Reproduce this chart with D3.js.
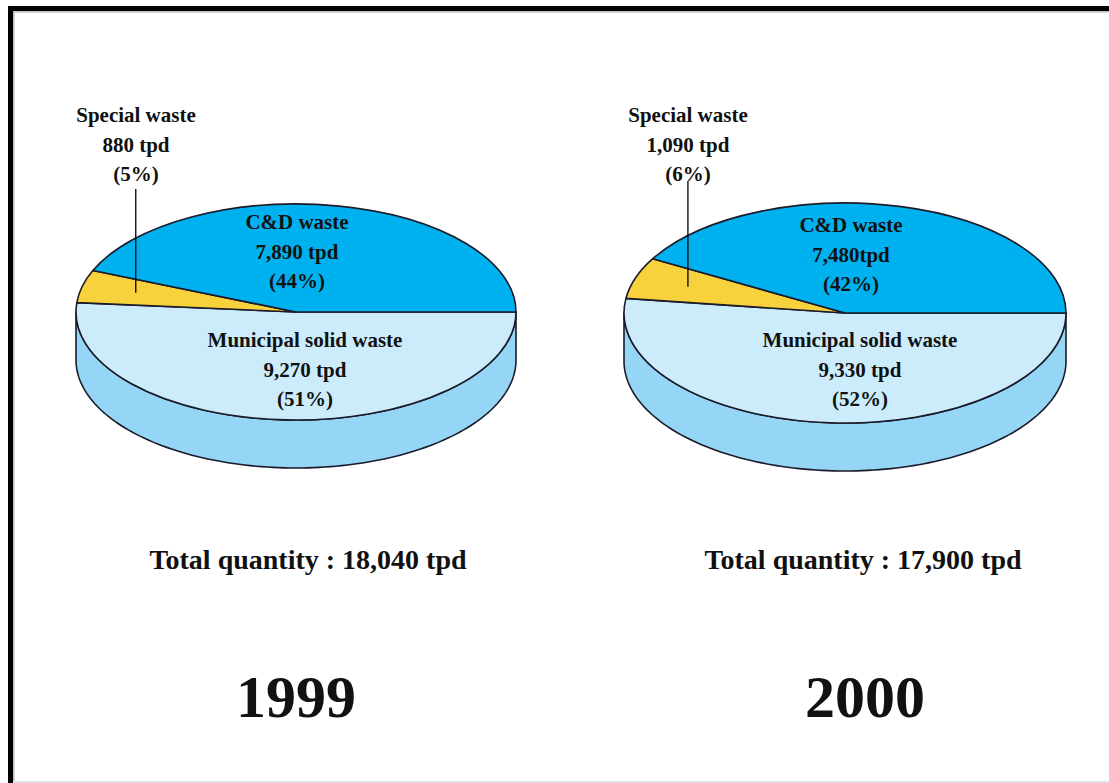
<!DOCTYPE html>
<html>
<head>
<meta charset="utf-8">
<script src="https://cdn.jsdelivr.net/npm/d3@7"></script>
<style>
  html, body { margin: 0; padding: 0; background: #fff; }
  svg { display: block; }
  text { font-family: "Liberation Serif", "Times New Roman", serif; font-weight: bold; fill: #111; }
</style>
</head>
<body>
<svg id="chart" width="1109" height="783"></svg>
<script>
// Daily waste quantities (tonnes per day) by category, for each year
const years = ["1999", "2000"];
const categories = ["Municipal solid waste", "Special waste", "C&D waste"];
const tpd1999 = [9270, 880, 7890];
const tpd2000 = [9330, 1090, 7480];
const pct1999 = [51, 5, 44];
const pct2000 = [52, 6, 42];
const totals = [18040, 17900];
const unitSep1999 = [" ", " ", " "];
const unitSep2000 = [" ", " ", ""];

const colors = ["#cdecfb", "#f8d23c", "#00b1ef"];
const sideColors = ["#95d6f6", "#d8b020", "#0093c8"];

const W = 1109, H = 783;
const svg = d3.select("#chart");

// frame
svg.append("rect").attr("x", 8).attr("y", 6).attr("width", W - 8).attr("height", 5).attr("fill", "#000");
svg.append("rect").attr("x", 8).attr("y", 6).attr("width", 5).attr("height", H - 6).attr("fill", "#000");
svg.append("rect").attr("x", 13).attr("y", 11).attr("width", W - 13).attr("height", 1.5).attr("fill", "#bbb");
svg.append("rect").attr("x", 13).attr("y", 11).attr("width", 1.5).attr("height", H - 11).attr("fill", "#bbb");
svg.append("rect").attr("x", 13).attr("y", H - 2).attr("width", W - 13).attr("height", 2).attr("fill", "#e2e2e2");

const fmt = d3.format(",");

const panels = [
  { year: years[0], values: tpd1999, pcts: pct1999, seps: unitSep1999, total: totals[0],
    cx: 296, cy: 312, rx: 220, ry: 108, depth: 48,
    special: { x: 136, top: 189 }, cd: { x: 297, y: 229 }, msw: { x: 305, y: 347 },
    totalX: 308, yearX: 296 },
  { year: years[1], values: tpd2000, pcts: pct2000, seps: unitSep2000, total: totals[1],
    cx: 845, cy: 313, rx: 221, ry: 110, depth: 48,
    special: { x: 688, top: 181 }, cd: { x: 851, y: 232 }, msw: { x: 860, y: 347 },
    totalX: 863, yearX: 865 }
];

const pie = d3.pie().sort(null).startAngle(Math.PI / 2).endAngle(Math.PI / 2 + 2 * Math.PI);

panels.forEach(p => {
  const slices = pie(p.values);
  const g = svg.append("g");
  const ept = (a, r = 1) => [p.cx + p.rx * r * Math.sin(a), p.cy - p.ry * r * Math.cos(a)];

  // visible side wall (front half: angles pi/2 .. 3pi/2)
  slices.forEach((s, i) => {
    const a0 = Math.max(s.startAngle, Math.PI / 2);
    const a1 = Math.min(s.endAngle, 3 * Math.PI / 2);
    if (a1 <= a0) return;
    const steps = d3.range(0, 121).map(k => a0 + (a1 - a0) * k / 120);
    const topEdge = steps.map(a => ept(a));
    const botEdge = steps.slice().reverse().map(a => { const q = ept(a); return [q[0], q[1] + p.depth]; });
    g.append("path")
      .attr("d", d3.line()(topEdge.concat(botEdge)) + "Z")
      .attr("fill", sideColors[i])
      .attr("stroke", "#1b1b2a")
      .attr("stroke-width", 1.6)
      .attr("stroke-linejoin", "round");
  });

  // top face: circular arcs squashed into an ellipse
  const arc = d3.arc().innerRadius(0).outerRadius(p.rx);
  const top = g.append("g").attr("transform", `translate(${p.cx},${p.cy}) scale(1,${p.ry / p.rx})`);
  top.selectAll("path")
    .data(slices)
    .join("path")
    .attr("d", arc)
    .attr("fill", (d, i) => colors[i])
    .attr("stroke", "#1b1b2a")
    .attr("stroke-width", 1.6)
    .attr("stroke-linejoin", "round")
    .attr("vector-effect", "non-scaling-stroke");

  const lab = (x, y, lines, size) => {
    const t = g.append("text").attr("text-anchor", "middle").attr("font-size", size);
    lines.forEach((s, k) => t.append("tspan").attr("x", x).attr("y", y + k * 29.5).text(s));
  };
  const vLab = i => `${fmt(p.values[i])}${p.seps[i]}tpd`;

  // special waste callout
  const sp = slices[1];
  const mid = (sp.startAngle + sp.endAngle) / 2;
  const tip = ept(mid, 0.75);
  g.append("line")
    .attr("x1", tip[0]).attr("x2", tip[0])
    .attr("y1", p.special.top).attr("y2", tip[1])
    .attr("stroke", "#111").attr("stroke-width", 1.4);
  lab(p.special.x, 122, [categories[1], vLab(1), `(${p.pcts[1]}%)`], 21);

  lab(p.cd.x, p.cd.y, [categories[2], vLab(2), `(${p.pcts[2]}%)`], 21);
  lab(p.msw.x, p.msw.y, [categories[0], vLab(0), `(${p.pcts[0]}%)`], 21);

  g.append("text").attr("x", p.totalX).attr("y", 569).attr("text-anchor", "middle")
    .attr("font-size", 28).text(`Total quantity : ${fmt(p.total)} tpd`);
  g.append("text").attr("x", p.yearX).attr("y", 717).attr("text-anchor", "middle")
    .attr("font-size", 60).text(p.year);
});
</script>
</body>
</html>
